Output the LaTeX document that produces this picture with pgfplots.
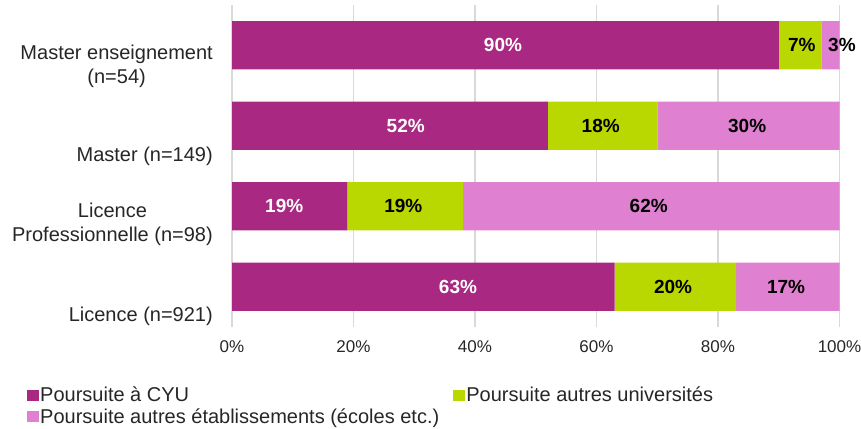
\documentclass[border=0pt]{standalone}
\usepackage{fontspec}
\setmainfont{Liberation Sans}
\usepackage{pgfplots}
\pgfplotsset{compat=1.18}
\definecolor{cyu}{HTML}{A82882}
\definecolor{univ}{HTML}{B9D700}
\definecolor{etab}{HTML}{E080D0}
\definecolor{gridc}{HTML}{D9D9D9}
\definecolor{txt}{HTML}{262626}
\tikzset{ylab/.style={anchor=east, align=center, font=\fontsize{20}{24.5}\selectfont, text=txt, inner sep=0pt}}
\begin{document}
\begin{tikzpicture}[x=1pt,y=1pt]
\useasboundingbox (0,0) rectangle (861,428);
\begin{axis}[
  at={(232pt,101pt)}, anchor=south west,
  scale only axis, width=607.5pt, height=322pt,
  xbar stacked, bar width=0.6,
  xmin=0, xmax=100, ymin=-0.5, ymax=3.5,
  enlargelimits=false,
  xtick={0,20,40,60,80,100},
  xticklabels={0\%,20\%,40\%,60\%,80\%,100\%},
  xticklabel style={anchor=center, yshift=-20pt, font=\fontsize{17}{20}\selectfont, text=txt},
  ytick=\empty,
  xmajorgrids, grid style={draw=gridc, line width=1.5pt},
  axis line style={draw=none},
  major tick length=0pt,
  clip=false,
  legend columns=2,
  legend cell align=left,
  legend style={draw=none, fill=none, at={(axis description cs:-0.3374,-0.183)}, anchor=north west,
    font=\fontsize{20}{23}\selectfont, text=txt, inner sep=0pt,
    nodes={inner sep=1pt},
    /tikz/every even column/.append style={column sep=13pt}, row sep=3pt},
  legend image code/.code={\fill[#1] (0pt,-5.5pt) rectangle (12pt,5.5pt);},
]
\addplot[fill=cyu, draw=none] coordinates {(63,0) (19,1) (52,2) (90,3)};
\addplot[fill=univ, draw=none] coordinates {(20,0) (19,1) (18,2) (7,3)};
\addplot[fill=etab, draw=none] coordinates {(17,0) (62,1) (30,2) (3,3)};
\legend{Poursuite à CYU, Poursuite autres universités, Poursuite autres établissements (écoles etc.)}
\node[ylab] at (axis cs:0,3) [xshift=-19pt, yshift=-21pt] {Master enseignement\\(n=54)};
\node[ylab] at (axis cs:0,2) [xshift=-19pt, yshift=-30.5pt] {Master (n=149)};
\node[ylab] at (axis cs:0,1) [xshift=-19pt, yshift=-18pt] {Licence\\Professionnelle (n=98)};
\node[ylab] at (axis cs:0,0) [xshift=-19pt, yshift=-30pt] {Licence (n=921)};
\end{axis}
\begin{axis}[
  at={(232pt,101pt)}, anchor=south west,
  scale only axis, width=607.5pt, height=322pt,
  xmin=0, xmax=100, ymin=-0.5, ymax=3.5,
  hide axis, clip=false,
  nodes near coords={\pgfplotspointmeta\%},
  point meta=explicit symbolic,
  nodes near coords align={center},
  every node near coord/.append style={font=\fontsize{19}{22}\selectfont\bfseries, anchor=center, inner sep=0pt},
]
\addplot[draw=none, mark=none, every node near coord/.append style={text=white}] table[meta=v, row sep=\\] {x y v\\ 37.2 0 63\\ 8.6 1 19\\ 28.6 2 52\\ 44.6 3 90\\};
\addplot[draw=none, mark=none, every node near coord/.append style={text=black}] table[meta=v, row sep=\\] {x y v\\ 72.6 0 20\\ 28.2 1 19\\ 60.7 2 18\\ 93.8 3 7\\};
\addplot[draw=none, mark=none, every node near coord/.append style={text=black}] table[meta=v, row sep=\\] {x y v\\ 91.2 0 17\\ 68.6 1 62\\ 84.8 2 30\\ 100.4 3 3\\};
\end{axis}
\end{tikzpicture}
\end{document}
